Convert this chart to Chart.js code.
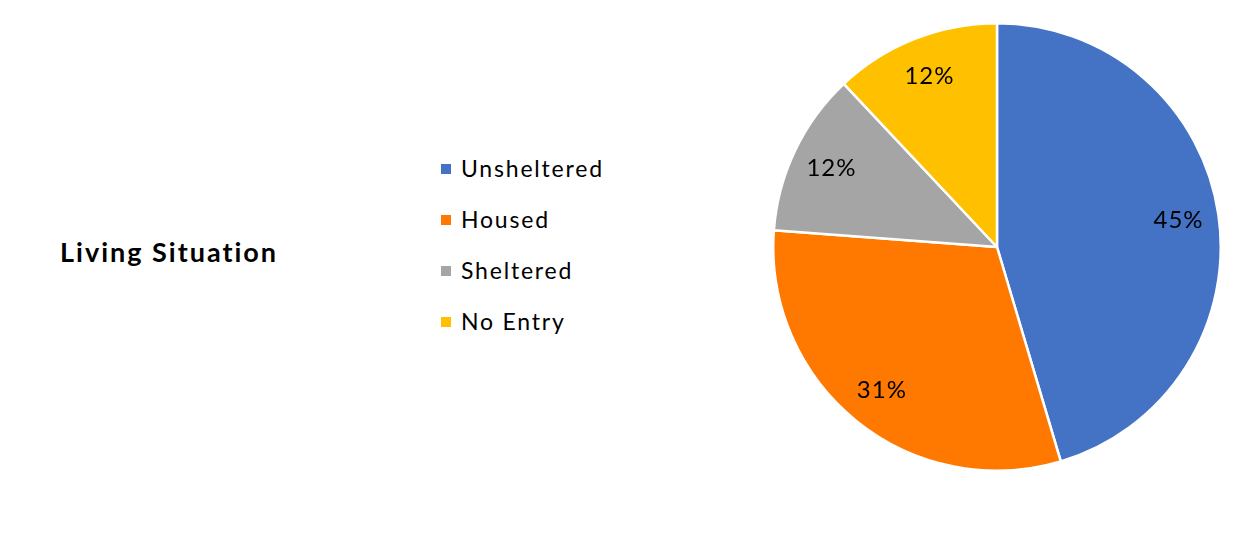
<!DOCTYPE html>
<html>
<head>
<meta charset="utf-8">
<script src="https://cdn.jsdelivr.net/npm/chart.js@4/dist/chart.umd.min.js"></script>
<style>
  body { margin: 0; background: #fff; width: 1241px; height: 554px; position: relative; overflow: hidden; }
  #title { position: absolute; left: 60px; top: 235px; font-family: Lato, sans-serif; font-weight: bold; font-size: 27px; letter-spacing: 2px; color: #000; }
  #legend { position: absolute; left: 441px; top: 151px; font-family: Lato, sans-serif; font-size: 23px; letter-spacing: 1.8px; color: #000; }
  #legend div { height: 51px; line-height: 34px; white-space: nowrap; }
  #legend span.box { display: inline-block; width: 10px; height: 10px; margin-right: 10px; vertical-align: 3px; }
  #pieBox { position: absolute; left: 772px; top: 22px; width: 450px; height: 450px; }
</style>
</head>
<body>
<div id="title">Living Situation</div>
<div id="legend"></div>
<div id="pieBox"><canvas id="myChart"></canvas></div>
<script>
var labels = ["Unsheltered", "Housed", "Sheltered", "No Entry"];
var values = [45.4, 30.8, 11.8, 12.0];
var colors = ["#4472C4", "#FF7800", "#A5A5A5", "#FFC000"];

// html legend
var legendHtml = "";
for (let i = 0; i < labels.length; i++) {
    legendHtml += '<div><span class="box" style="background:' + colors[i] + '"></span>' + labels[i] + '</div>';
}
document.getElementById("legend").innerHTML = legendHtml;

// percent labels inside slices
const pctLabels = {
    id: 'pctLabels',
    afterDatasetsDraw(chart) {
        const ctx = chart.ctx;
        const meta = chart.getDatasetMeta(0);
        const total = values.reduce((a, b) => a + b, 0);
        ctx.save();
        ctx.font = '24px Lato, sans-serif';
        ctx.letterSpacing = '1px';
        ctx.fillStyle = '#000';
        ctx.textAlign = 'center';
        ctx.textBaseline = 'middle';
        meta.data.forEach(function (arc, i) {
            let mid = (arc.startAngle + arc.endAngle) / 2;
            let r = arc.outerRadius * 0.82;
            let x = arc.x + Math.cos(mid) * r;
            let y = arc.y + Math.sin(mid) * r;
            ctx.fillText(Math.round(values[i] / total * 100) + '%', x, y);
        });
        ctx.restore();
    }
};

const ctx = document.getElementById("myChart").getContext('2d');
var myChart = new Chart(ctx, {
    type: 'pie',
    data: {
        labels: labels,
        datasets: [{
            data: values,
            backgroundColor: colors,
            borderColor: '#ffffff',
            borderWidth: 2.5
        }]
    },
    options: {
        responsive: true,
        maintainAspectRatio: false,
        animation: false,
        layout: { padding: 0 },
        plugins: {
            legend: { display: false },
            tooltip: { enabled: false }
        }
    },
    plugins: [pctLabels]
});
</script>
</body>
</html>
